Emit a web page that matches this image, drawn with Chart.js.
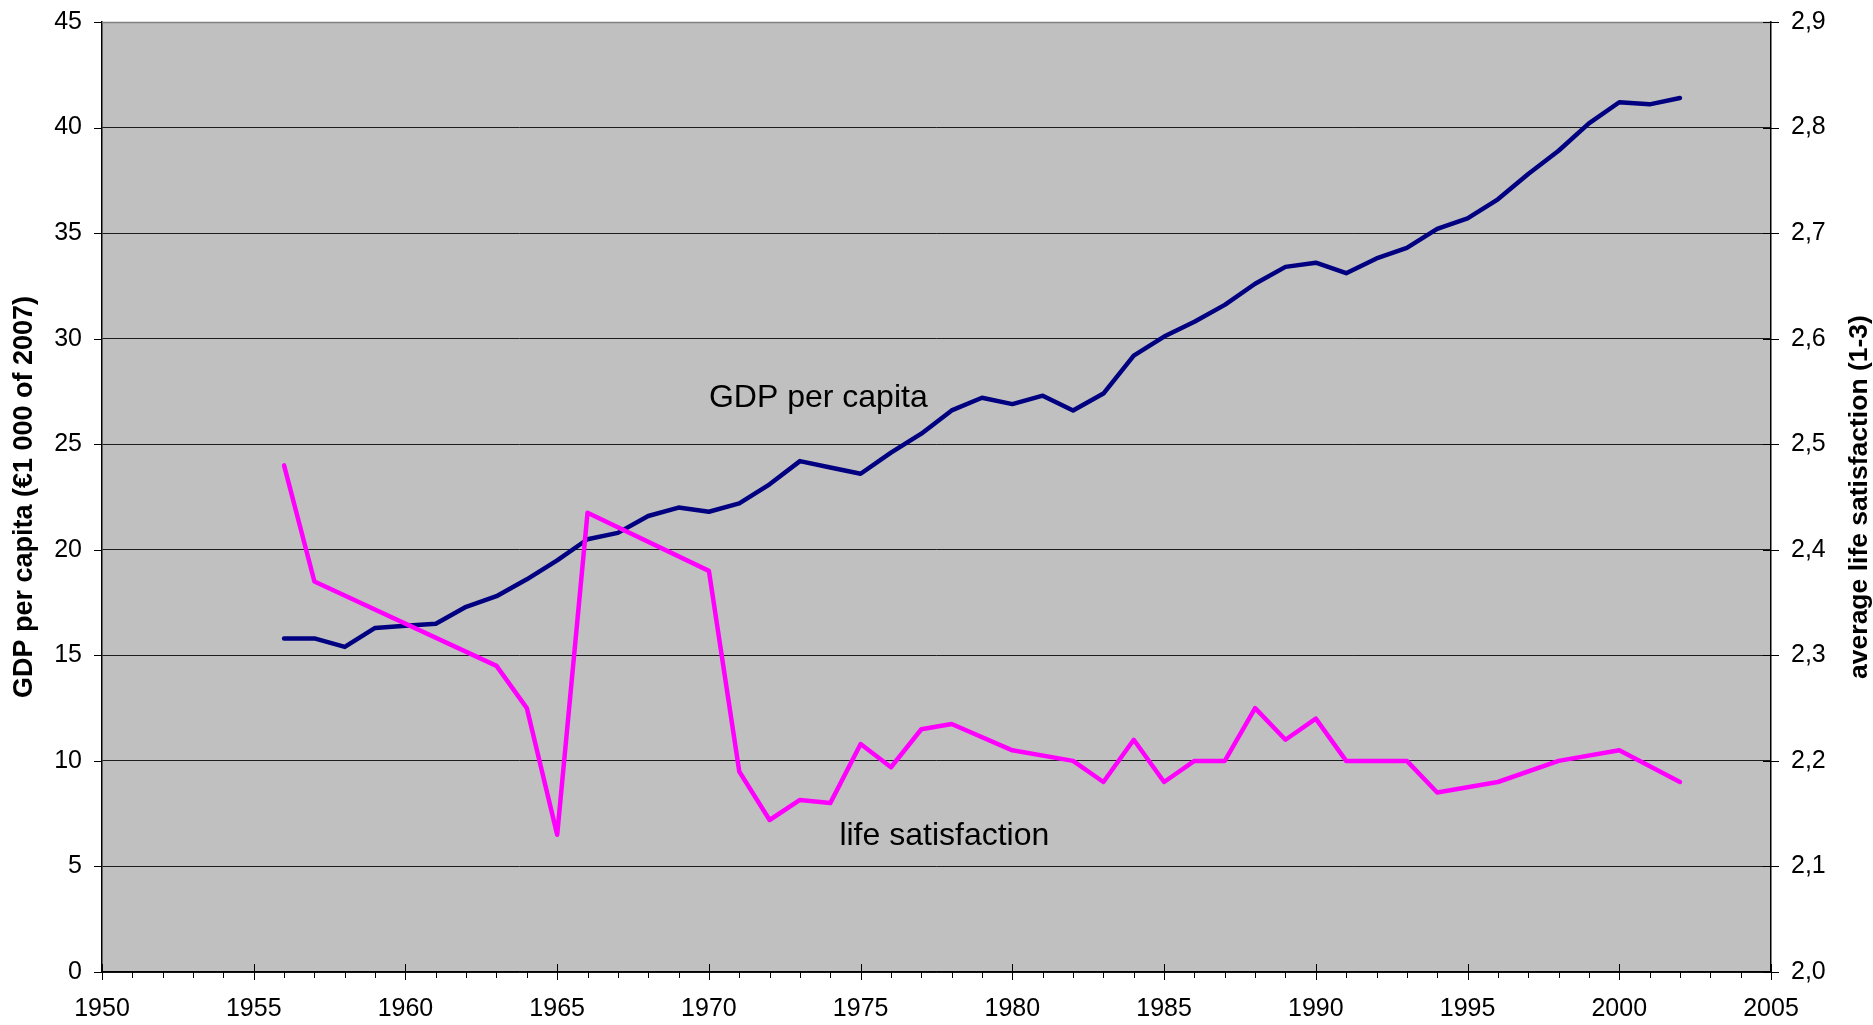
<!DOCTYPE html>
<html>
<head>
<meta charset="utf-8">
<script src="https://cdn.jsdelivr.net/npm/chart.js@4.4.1/dist/chart.umd.min.js"></script>
<style>
  html, body { margin: 0; padding: 0; background: #fff; }
</style>
</head>
<body>
<canvas id="chart" width="1873" height="1025"></canvas>
<script>
// ---- data ----
const years = [1956, 1957, 1958, 1959, 1960, 1961, 1962, 1963, 1964, 1965,
               1966, 1967, 1968, 1969, 1970, 1971, 1972, 1973, 1974, 1975,
               1976, 1977, 1978, 1979, 1980, 1981, 1982, 1983, 1984, 1985,
               1986, 1987, 1988, 1989, 1990, 1991, 1992, 1993, 1994, 1995,
               1996, 1997, 1998, 1999, 2000, 2001, 2002];

// GDP per capita, 1 000 EUR of 2007 (left axis)
const gdpPerCapita = [15.8, 15.8, 15.4, 16.3, 16.4, 16.5, 17.3, 17.8, 18.6, 19.5,
                      20.5, 20.8, 21.6, 22.0, 21.8, 22.2, 23.1, 24.2, 23.9, 23.6,
                      24.6, 25.5, 26.6, 27.2, 26.9, 27.3, 26.6, 27.4, 29.2, 30.1,
                      30.8, 31.6, 32.6, 33.4, 33.6, 33.1, 33.8, 34.3, 35.2, 35.7,
                      36.6, 37.8, 38.9, 40.2, 41.2, 41.1, 41.4];

// average life satisfaction 1-3 (right axis), null = no survey that year
const lifeSatisfaction = [2.48, 2.37, null, null, null, null, null, 2.29, 2.25, 2.13,
                          2.435, null, null, null, 2.38, 2.19, 2.144, 2.163, 2.16, 2.216,
                          2.194, 2.23, 2.235, null, 2.21, null, 2.20, 2.18, 2.22, 2.18,
                          2.20, 2.20, 2.25, 2.22, 2.24, 2.20, 2.20, 2.20, 2.17, null,
                          2.18, null, 2.20, null, 2.21, null, 2.18];

const xTicks = { min: 1950, max: 2005, step: 5 };
const leftTicks = { min: 0, max: 45, step: 5 };
const rightTicks = { min: 2.0, max: 2.9, step: 0.1 };

const FONT = '"Liberation Sans", Arial, sans-serif';

function toPoints(values) {
    return years.map((yr, i) => ({ x: yr, y: values[i] }));
}

// fixed axis boxes so the plot area sits where it does in the original
function fixWidth(w) {
    return s => { s.width = w; s.paddingTop = 0; s.paddingBottom = 0; };
}

// grey plot area, tick marks, titles and the two in-chart labels
const decorations = {
    id: 'decorations',
    beforeDraw(chart) {
        const { ctx, chartArea: a } = chart;
        ctx.save();
        ctx.fillStyle = '#c0c0c0';
        ctx.fillRect(a.left, a.top, a.right - a.left, a.bottom - a.top);
        ctx.restore();
    },
    afterDraw(chart) {
        const { ctx, chartArea: a, scales } = chart;
        ctx.save();

        // top border
        ctx.strokeStyle = '#808080';
        ctx.lineWidth = 1.5;
        ctx.beginPath();
        ctx.moveTo(a.left, a.top + 0.5);
        ctx.lineTo(a.right, a.top + 0.5);
        ctx.stroke();

        ctx.strokeStyle = '#000';
        ctx.lineWidth = 1;
        ctx.beginPath();
        // x ticks, every year, longer every 5
        for (let yr = xTicks.min; yr <= xTicks.max; yr++) {
            const px = Math.round(scales.x.getPixelForValue(yr)) + 0.5;
            if (yr % 5 === 0) {
                ctx.moveTo(px, a.bottom - 8);
                ctx.lineTo(px, a.bottom + 8);
            } else {
                ctx.moveTo(px, a.bottom);
                ctx.lineTo(px, a.bottom + 6);
            }
        }
        // left ticks
        for (let v = leftTicks.min; v <= leftTicks.max; v += leftTicks.step) {
            const py = Math.round(scales.y.getPixelForValue(v)) + 0.5;
            ctx.moveTo(a.left - 8, py);
            ctx.lineTo(a.left, py);
        }
        // right ticks
        for (let i = 0; i <= 9; i++) {
            const v = rightTicks.min + i * rightTicks.step;
            const py = Math.round(scales.y2.getPixelForValue(v)) + 0.5;
            ctx.moveTo(a.right - 8, py);
            ctx.lineTo(a.right + 8, py);
        }
        ctx.stroke();

        // axis titles, both reading bottom to top
        const midY = (a.top + a.bottom) / 2;
        ctx.fillStyle = '#000';
        ctx.textAlign = 'center';
        ctx.textBaseline = 'middle';
        ctx.save();
        ctx.font = 'bold 27px ' + FONT;
        ctx.translate(25, midY);
        ctx.rotate(-Math.PI / 2);
        ctx.fillText('GDP per capita (€1 000 of 2007)', 0, 0);
        ctx.restore();
        ctx.save();
        ctx.font = 'bold 26.5px ' + FONT;
        ctx.translate(1860, midY);
        ctx.rotate(-Math.PI / 2);
        ctx.fillText('average life satisfaction (1-3)', 0, 0);
        ctx.restore();

        // series labels inside the plot
        ctx.font = '32px ' + FONT;
        ctx.textAlign = 'left';
        ctx.textBaseline = 'alphabetic';
        ctx.fillText('GDP per capita', scales.x.getPixelForValue(1970.0), scales.y.getPixelForValue(26.76));
        ctx.fillText('life satisfaction', scales.x.getPixelForValue(1974.3), scales.y.getPixelForValue(6.02));

        ctx.restore();
    }
};

const chart = new Chart(document.getElementById('chart').getContext('2d'), {
    type: 'line',
    data: {
        datasets: [{
            label: 'life satisfaction',
            data: toPoints(lifeSatisfaction),
            yAxisID: 'y2',
            borderColor: '#ff00ff',
            borderWidth: 4.5,
            pointRadius: 0,
            spanGaps: true,
            borderJoinStyle: 'round',
            borderCapStyle: 'round',
            order: 1
        }, {
            label: 'GDP per capita',
            data: toPoints(gdpPerCapita),
            yAxisID: 'y',
            borderColor: '#000080',
            borderWidth: 4.5,
            pointRadius: 0,
            borderJoinStyle: 'round',
            borderCapStyle: 'round',
            order: 2
        }]
    },
    options: {
        responsive: false,
        animation: false,
        devicePixelRatio: 1,
        layout: { padding: { top: 22, left: 0, right: 0, bottom: 0 } },
        plugins: {
            legend: { display: false },
            tooltip: { enabled: false }
        },
        scales: {
            x: {
                type: 'linear',
                position: 'bottom',
                min: xTicks.min,
                max: xTicks.max,
                afterFit: s => { s.height = 53; s.paddingLeft = 0; s.paddingRight = 0; },
                ticks: {
                    stepSize: xTicks.step,
                    maxTicksLimit: 100,
                    autoSkip: false,
                    maxRotation: 0,
                    padding: 22,
                    color: '#000',
                    font: { family: FONT, size: 25 },
                    callback: v => String(v)
                },
                grid: { display: true, drawOnChartArea: false, drawTicks: false },
                border: { display: true, color: '#000', width: 1.5 }
            },
            y: {
                type: 'linear',
                position: 'left',
                min: leftTicks.min,
                max: leftTicks.max,
                afterFit: fixWidth(102),
                ticks: {
                    stepSize: leftTicks.step,
                    maxTicksLimit: 100,
                    padding: 20,
                    color: '#000',
                    font: { family: FONT, size: 25 }
                },
                grid: { color: 'rgba(0,0,0,0.85)', lineWidth: 1, drawTicks: false },
                border: { display: true, color: '#000', width: 1.5 }
            },
            y2: {
                type: 'linear',
                position: 'right',
                min: rightTicks.min,
                max: rightTicks.max,
                afterFit: fixWidth(102),
                ticks: {
                    stepSize: rightTicks.step,
                    maxTicksLimit: 100,
                    padding: 20,
                    color: '#000',
                    font: { family: FONT, size: 25 },
                    callback: v => v.toFixed(1).replace('.', ',')
                },
                grid: { drawOnChartArea: false, drawTicks: false },
                border: { display: true, color: '#000', width: 1.5 }
            }
        }
    },
    plugins: [decorations]
});
</script>
</body>
</html>
